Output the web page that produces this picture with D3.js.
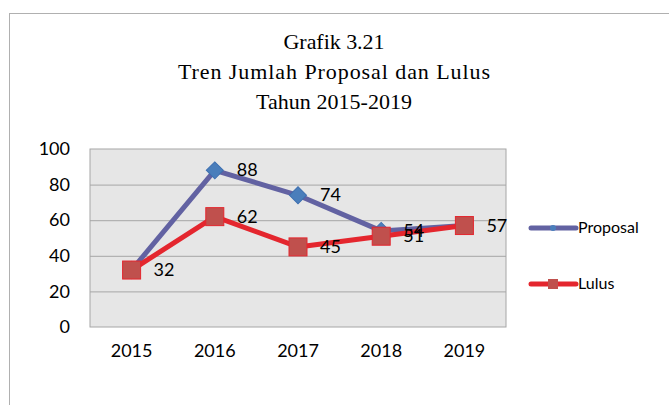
<!DOCTYPE html>
<html>
<head>
<meta charset="utf-8">
<script src="https://cdn.jsdelivr.net/npm/d3@7"></script>
<style>
  body { margin: 0; background: #fff; }
  svg { display: block; }
</style>
</head>
<body>
<script>
const years = ["2015", "2016", "2017", "2018", "2019"];
const proposal = [32, 88, 74, 54, 57];
const lulus = [32, 62, 45, 51, 57];
const yTicks = [0, 20, 40, 60, 80, 100];
const titleLines = ["Grafik 3.21", "Tren Jumlah Proposal dan Lulus", "Tahun 2015-2019"];

const W = 669, H = 405;
const margin = { top: 149, left: 90, right: 163, bottom: 78 };
const width = W - margin.left - margin.right,
  height = H - margin.top - margin.bottom;

const svg = d3.select("body").append("svg")
  .attr("width", W).attr("height", H);

// outer frame
svg.append("rect")
  .attr("x", 9.5).attr("y", 13.5)
  .attr("width", W).attr("height", H)
  .attr("fill", "none").attr("stroke", "#b0b0b0");

const titleWidths = [101, 312, 156];
svg.append("g").selectAll("text")
  .data(titleLines).join("text")
  .attr("x", 334).attr("y", (d, i) => 49 + i * 30)
  .attr("text-anchor", "middle")
  .attr("font-family", "Liberation Serif, serif")
  .attr("font-size", 22)
  .attr("textLength", (d, i) => titleWidths[i])
  .attr("lengthAdjust", "spacing")
  .text(d => d);

const g = svg.append("g")
  .attr("transform", "translate(" + margin.left + "," + margin.top + ")");

const x = d3.scaleBand().domain(years).range([0, width]);
const y = d3.scaleLinear().domain([0, 100]).range([height, 0]);

g.append("rect")
  .attr("width", width).attr("height", height)
  .attr("fill", "#e6e6e6").attr("stroke", "#a6a6a6");

g.append("g").selectAll("line")
  .data(yTicks.slice(1, -1)).join("line")
  .attr("x1", 0).attr("x2", width)
  .attr("y1", d => y(d) + 0.5).attr("y2", d => y(d) + 0.5)
  .attr("stroke", "#a6a6a6");

const font = "Lato, Open Sans, sans-serif";

const yAxis = g.append("g")
  .call(d3.axisLeft(y).tickValues(yTicks).tickSize(0).tickPadding(20));
yAxis.select(".domain").remove();
yAxis.selectAll("text")
  .attr("font-family", font)
  .attr("font-size", 18).attr("fill", "#000");

const xAxis = g.append("g")
  .attr("transform", "translate(0," + height + ")")
  .call(d3.axisBottom(x).tickSize(0).tickPadding(17));
xAxis.select(".domain").remove();
xAxis.selectAll("text")
  .attr("font-family", font)
  .attr("font-size", 18).attr("fill", "#000");

const cx = d => x(d) + x.bandwidth() / 2;
const line = d3.line().x((d, i) => cx(years[i])).y(d => y(d));

// Proposal
g.append("path").datum(proposal)
  .attr("d", line).attr("fill", "none")
  .attr("stroke", "#6262a2").attr("stroke-width", 5)
  .attr("stroke-linejoin", "round");
g.append("g").selectAll("path")
  .data(proposal).join("path")
  .attr("transform", (d, i) => "translate(" + cx(years[i]) + "," + y(d) + ") rotate(45)")
  .attr("d", "M-6,-6H6V6H-6Z")
  .attr("fill", "#4a7ebb").attr("stroke", "#3d6fb0").attr("stroke-width", 1);

// Lulus
g.append("path").datum(lulus)
  .attr("d", line).attr("fill", "none")
  .attr("stroke", "#e4262e").attr("stroke-width", 5)
  .attr("stroke-linejoin", "round");
g.append("g").selectAll("rect")
  .data(lulus).join("rect")
  .attr("x", (d, i) => cx(years[i]) - 9)
  .attr("y", d => y(d) - 9)
  .attr("width", 18).attr("height", 18)
  .attr("fill", "#c0504d").attr("stroke", "#e4262e").attr("stroke-width", 1);

// data labels (the 2015 Proposal label sits under the Lulus one, as in the source)
g.append("g").selectAll("text")
  .data(proposal).join("text")
  .attr("x", (d, i) => cx(years[i]) + 22)
  .attr("y", d => y(d) + 6)
  .attr("font-family", font).attr("font-size", 18)
  .attr("opacity", (d, i) => d === lulus[i] ? 0 : 1)
  .text(d => d);
g.append("g").selectAll("text")
  .data(lulus).join("text")
  .attr("x", (d, i) => cx(years[i]) + 22)
  .attr("y", d => y(d) + 6)
  .attr("font-family", font).attr("font-size", 18)
  .text(d => d);

// legend
const legend = svg.append("g");
const items = [
  { name: "Proposal", color: "#6262a2", y: 228 },
  { name: "Lulus", color: "#e4262e", y: 284 }
];
items.forEach((it, k) => {
  legend.append("line")
    .attr("x1", 531).attr("x2", 576)
    .attr("y1", it.y).attr("y2", it.y)
    .attr("stroke", it.color).attr("stroke-width", 5)
    .attr("stroke-linecap", "round");
  if (k === 0) {
    legend.append("circle").attr("cx", 553).attr("cy", it.y).attr("r", 3)
      .attr("fill", "#4a7ebb");
  } else {
    legend.append("rect").attr("x", 548).attr("y", it.y - 5)
      .attr("width", 10).attr("height", 10).attr("fill", "#c0504d");
  }
  legend.append("text")
    .attr("x", 578).attr("y", it.y + 5)
    .attr("font-family", font).attr("font-size", 16)
    .text(it.name);
});
</script>
</body>
</html>
